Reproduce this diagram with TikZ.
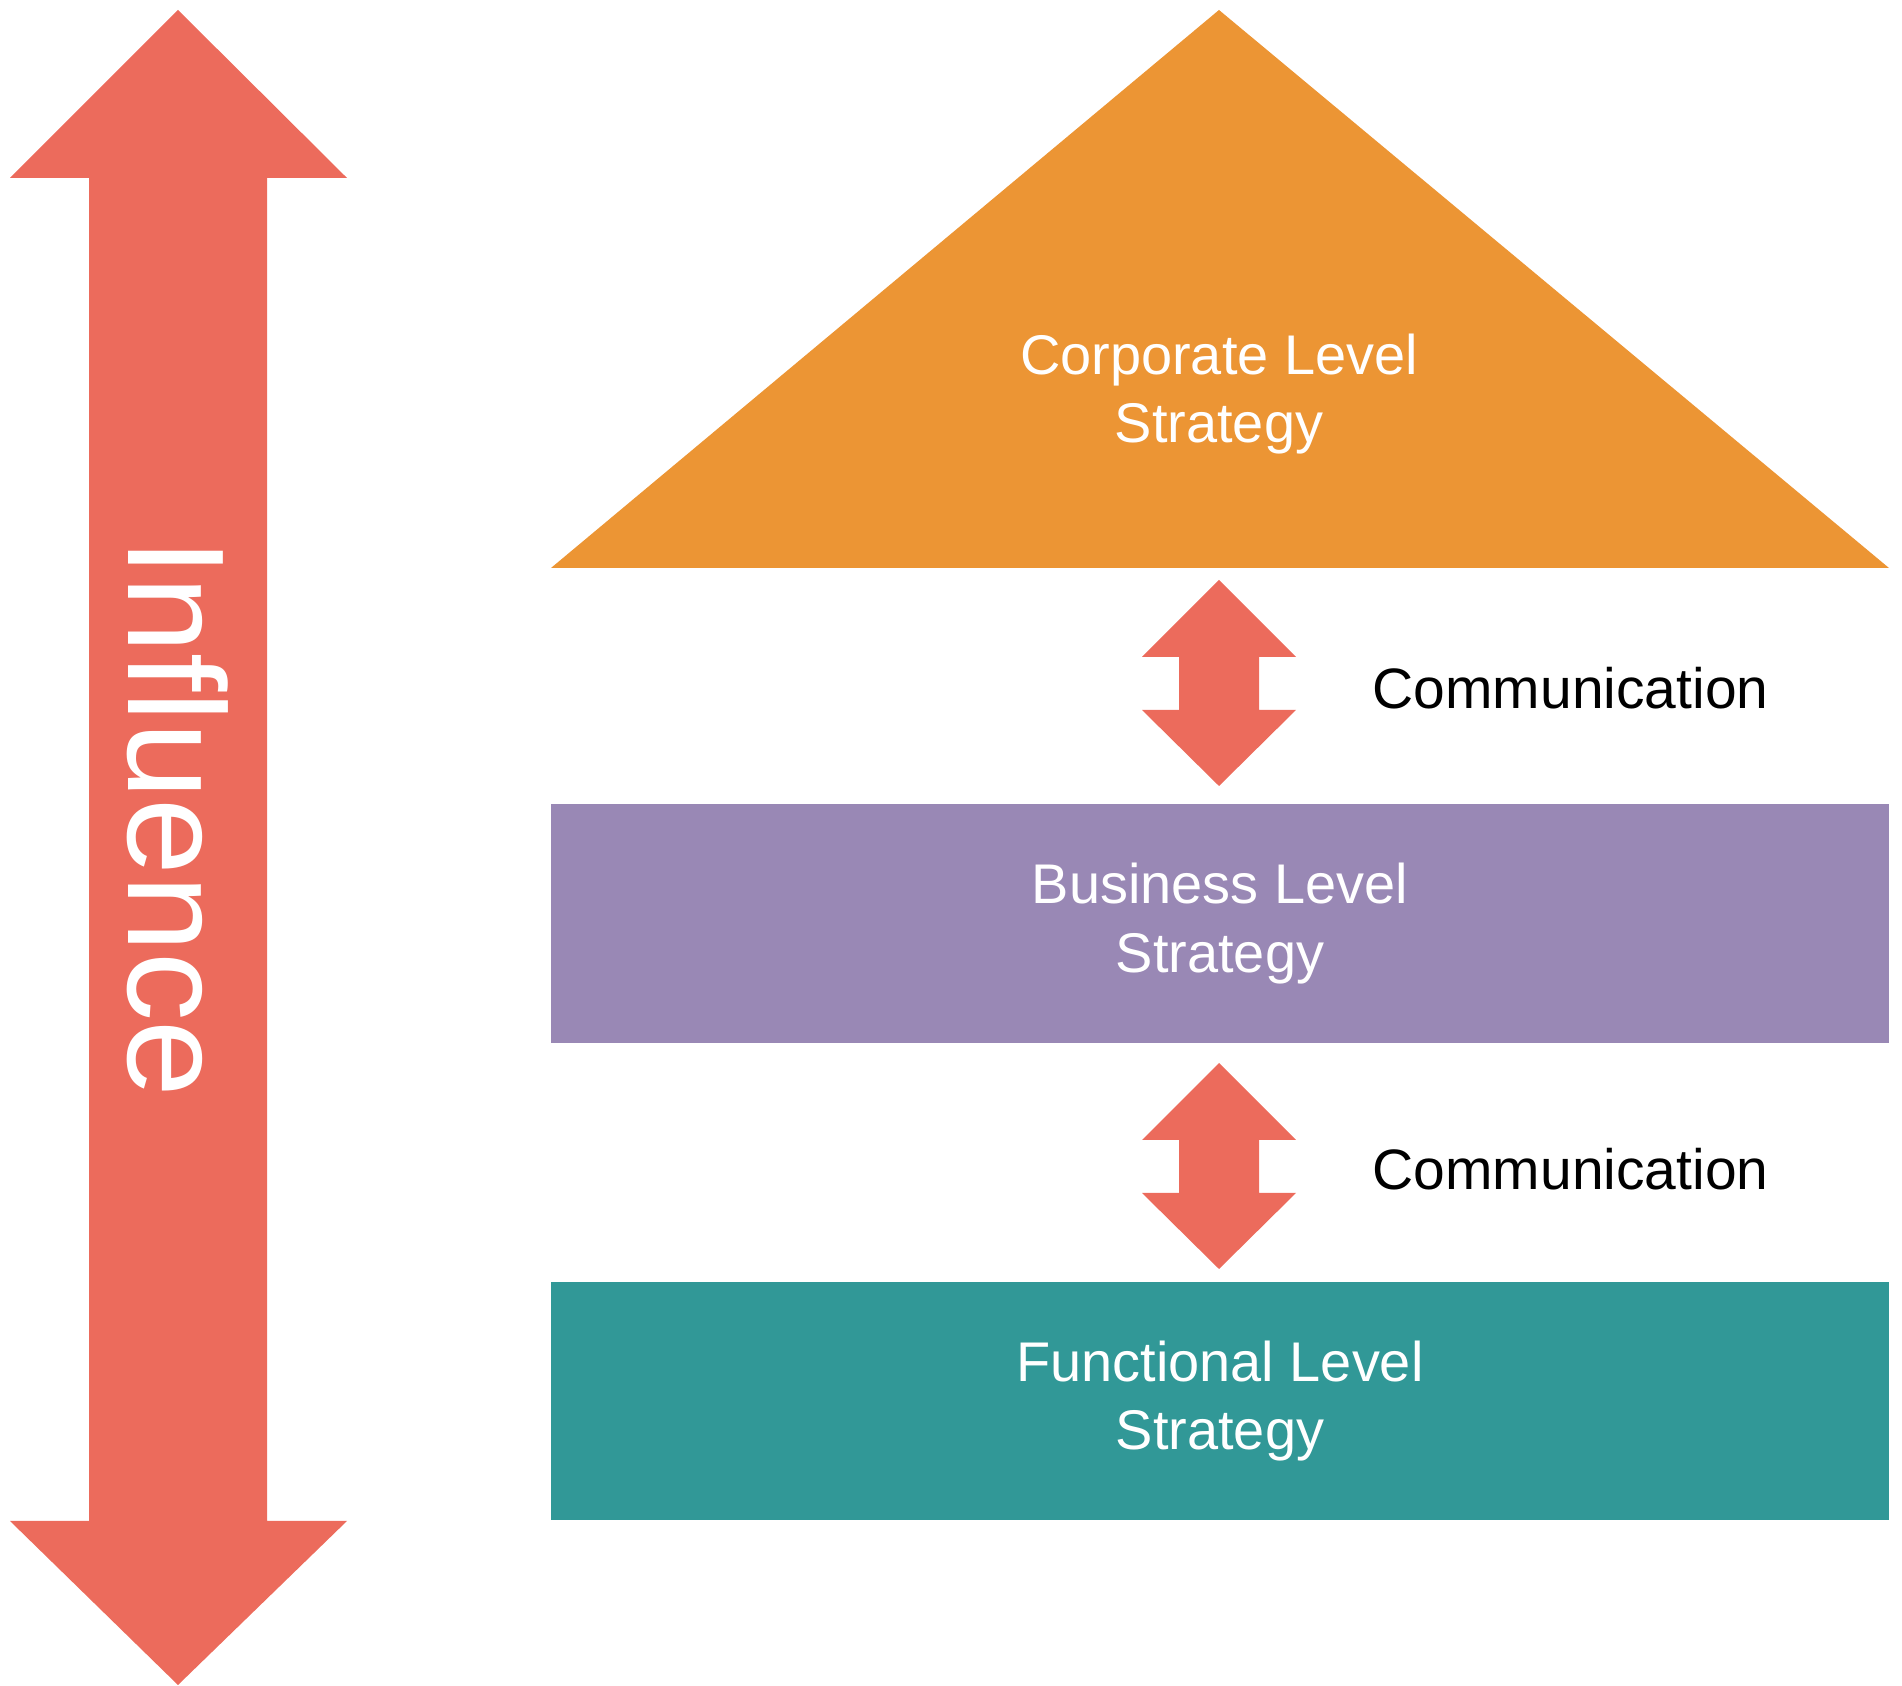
\documentclass[tikz,border=0pt]{standalone}
\usepackage{fontspec}
\setmainfont{Liberation Sans}
\usetikzlibrary{positioning}
\definecolor{corporange}{RGB}{236,149,52}
\definecolor{bizpurple}{RGB}{153,136,181}
\definecolor{functeal}{RGB}{49,152,151}
\definecolor{arrowred}{RGB}{236,107,92}
\tikzset{
  level/.style={align=center, text=white, inner sep=0pt,
    font=\fontsize{15.9}{19.4}\selectfont},
  levelbox/.style={level, minimum width=13.38cm, minimum height=2.38cm},
  comm/.style={anchor=west, inner sep=0pt, font=\fontsize{16.2}{19}\selectfont},
  commarrow/.pic={
    \fill[arrowred] (0,-103) -- (77,-26) -- (40,-26) -- (40,27) -- (77,27)
      -- (0,103) -- (-77,27) -- (-40,27) -- (-40,-26) -- (-77,-26) -- cycle;
  },
}

\begin{document}
\begin{tikzpicture}[x=0.01cm, y=-0.01cm]
  \useasboundingbox (0,0) rectangle (1902,1686);

  % influence arrow
  \fill[arrowred] (178,10) -- (347,178) -- (267,178) -- (267,1521) -- (347,1521)
    -- (178,1685) -- (10,1521) -- (89,1521) -- (89,178) -- (10,178) -- cycle;
  \node[rotate=-90, text=white, inner sep=0pt,
        font=\fontsize{39.2}{40}\selectfont] (infl) at (178,818) {Influence};

  % levels
  \fill[corporange] (551,568) -- (1219,10) -- (1889,568) -- cycle;
  \node[level] (corp) at (1219,394) {Corporate Level\\Strategy};
  \node[levelbox, fill=bizpurple] (biz) at (1220,923.5) {Business Level\\Strategy};
  \node[levelbox, fill=functeal]  (func) at (1220,1401) {Functional Level\\Strategy};

  % communication
  \pic at (1219,683) {commarrow};
  \pic at (1219,1166) {commarrow};
  \node[comm] (comm1) at (1372,688) {Communication};
  \node[comm] (comm2) at (1372,1169) {Communication};
\end{tikzpicture}
\end{document}
